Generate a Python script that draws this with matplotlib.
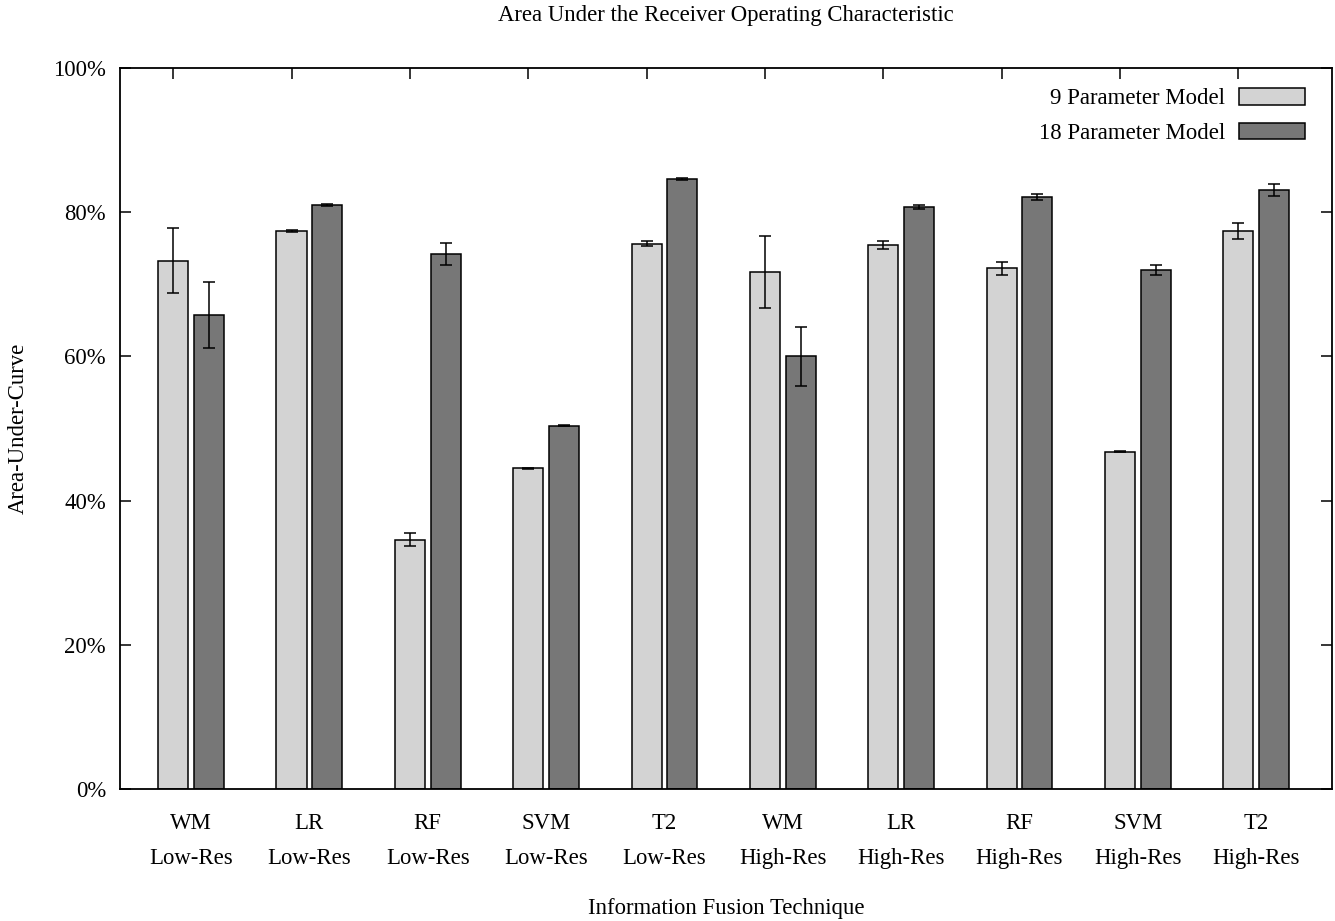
import matplotlib
matplotlib.use("Agg")
import matplotlib.pyplot as plt
import numpy as np
from matplotlib.patches import Patch

methods = ["WM", "LR", "RF", "SVM", "T2", "WM", "LR", "RF", "SVM", "T2"]
resolutions = ["Low-Res"] * 5 + ["High-Res"] * 5
auc_9 = [73.3, 77.4, 34.6, 44.5, 75.6, 71.7, 75.4, 72.2, 46.8, 77.4]
err_9 = [4.5, 0.15, 0.9, 0.05, 0.35, 5.0, 0.55, 0.95, 0.05, 1.05]
auc_18 = [65.7, 81.0, 74.2, 50.4, 84.6, 60.0, 80.7, 82.1, 72.0, 83.1]
err_18 = [4.6, 0.1, 1.5, 0.05, 0.1, 4.1, 0.3, 0.45, 0.7, 0.8]
series_labels = ["9 Parameter Model", "18 Parameter Model"]
colors = ["#d3d3d3", "#777777"]

FS = 16.4
plt.rcParams["font.family"] = ["Liberation Serif", "DejaVu Serif"]
plt.rcParams["font.size"] = FS

fig = plt.figure(figsize=(13.35, 9.21), dpi=100)
ax = fig.add_axes([120/1335, 1-789/921, 1212/1335, (789-68)/921])

x = np.arange(len(methods))
off = 0.151
w = 0.254
ax.bar(x - off, auc_9, w, color=colors[0], edgecolor="black", linewidth=1.1, zorder=2)
ax.bar(x + off, auc_18, w, color=colors[1], edgecolor="black", linewidth=1.1, zorder=2)
ax.errorbar(x - off, auc_9, yerr=err_9, fmt="none", ecolor="black", elinewidth=1.1,
            capsize=4.3, capthick=1.1, zorder=3)
ax.errorbar(x + off, auc_18, yerr=err_18, fmt="none", ecolor="black", elinewidth=1.1,
            capsize=4.3, capthick=1.1, zorder=3)

ax.set_xlim(-0.60, 9.64)
ax.set_ylim(0, 100)
ax.set_yticks(np.arange(0, 101, 20))
ax.set_yticklabels([f"{v}%" for v in range(0, 101, 20)])
ax.set_xticks(x)
ax.set_xticklabels([f"{m}\n{r}" for m, r in zip(methods, resolutions)], linespacing=1.88)
ax.set_xticks(x - off, minor=True)
ax.tick_params(axis="x", which="major", length=0, pad=17)
ax.tick_params(axis="x", which="minor", direction="in", length=8, width=1.1,
               top=True, bottom=False)
ax.tick_params(axis="y", direction="in", length=8, width=1.1, right=True, pad=10)
for s in ax.spines.values():
    s.set_linewidth(1.3)

fig.text(726/1335, 1-16/921, "Area Under the Receiver Operating Characteristic",
         ha="center", va="center", fontsize=FS)
fig.text(726/1335, 1-908/921, "Information Fusion Technique",
         ha="center", va="center", fontsize=FS)
fig.text(18/1335, 1-428/921, "Area-Under-Curve", ha="center", va="center",
         rotation=90, fontsize=FS)

handles = [Patch(facecolor=colors[0], edgecolor="black", linewidth=1.1),
           Patch(facecolor=colors[1], edgecolor="black", linewidth=1.1)]
ax.legend(handles, series_labels, loc="upper right",
          bbox_to_anchor=(1316/1335, 1-77/921), bbox_transform=fig.transFigure,
          frameon=False, markerfirst=False, borderpad=0, handlelength=2.9,
          handleheight=0.72, handletextpad=0.6, labelspacing=0.58, fontsize=FS)

fig.savefig("out.png", dpi=100)
